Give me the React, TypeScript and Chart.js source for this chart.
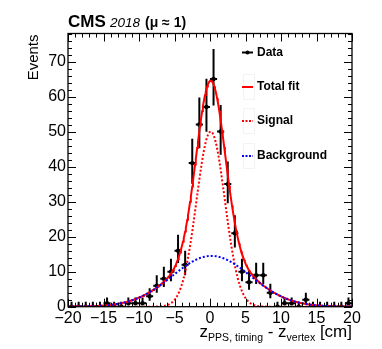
import React, { useEffect, useRef } from "react";
import { Chart, registerables } from "chart.js";
Chart.register(...registerables);

// ---- data ----
const binCenters = [
  -19.5, -18.5, -17.5, -16.5, -15.5, -14.5, -13.5, -12.5, -11.5, -10.5,
  -9.5, -8.5, -7.5, -6.5, -5.5, -4.5, -3.5, -2.5, -1.5, -0.5,
  0.5, 1.5, 2.5, 3.5, 4.5, 5.5, 6.5, 7.5, 8.5, 9.5,
  10.5, 11.5, 12.5, 13.5, 14.5, 15.5, 16.5, 17.5, 18.5, 19.5,
];
const counts = [
  0, 0, 0, 0, 0, 1, 0, 0, 1, 1,
  1, 3, 6, 8, 10, 16, 12, 41, 52, 57,
  65, 50, 35, 21, 10, 7, 9, 9, 4, 0,
  1, 1, 0, 2, 0, 0, 0, 0, 0, 1,
];
const binWidth = 1;

const xTickValues = [-20, -15, -10, -5, 0, 5, 10, 15, 20];
const xTickLabels = ["\u221220", "\u221215", "\u221210", "\u22125", "0", "5", "10", "15", "20"];
const yTickValues = [0, 10, 20, 30, 40, 50, 60, 70];
const yTickLabels = ["0", "10", "20", "30", "40", "50", "60", "70"];

// fit parameters (Gaussians)
const signalAmp = 50;
const signalMean = 0.1;
const signalSigma = 2.0;
const backgroundAmp = 14.5;
const backgroundMean = 0.2;
const backgroundSigma = 5.5;

const legendLabels = ["Data", "Total fit", "Signal", "Background"];

const X_MIN = -20;
const X_MAX = 20;
const Y_MIN = 0;
const Y_MAX = 78;

const FONT = "'Liberation Sans', Arial, Helvetica, sans-serif";

function gauss(x: number, a: number, m: number, s: number) {
  return a * Math.exp(-((x - m) * (x - m)) / (2 * s * s));
}

function buildCurves() {
  const sig: { x: number; y: number }[] = [];
  const bkg: { x: number; y: number }[] = [];
  const tot: { x: number; y: number }[] = [];
  for (let i = 0; i <= 400; i++) {
    const x = X_MIN + (i * (X_MAX - X_MIN)) / 400;
    const s = gauss(x, signalAmp, signalMean, signalSigma);
    const b = gauss(x, backgroundAmp, backgroundMean, backgroundSigma);
    sig.push({ x, y: s });
    bkg.push({ x, y: b });
    tot.push({ x, y: s + b });
  }
  return { sig, bkg, tot };
}

function errLow(n: number) {
  return n > 0 ? Math.sqrt(n + 0.25) - 0.5 : 0;
}
function errHigh(n: number) {
  return n > 0 ? Math.sqrt(n + 0.25) + 0.5 : 1.4;
}

const errorBarPlugin = {
  id: "errorBars",
  beforeDatasetsDraw(chart: any) {
    const { ctx, chartArea: a, scales } = chart;
    const xs = scales.x;
    const ys = scales.y;
    ctx.save();
    ctx.beginPath();
    ctx.rect(a.left, a.top, a.right - a.left, a.bottom - a.top);
    ctx.clip();
    ctx.strokeStyle = "#000";
    ctx.lineWidth = 2;
    binCenters.forEach((c, i) => {
      const n = counts[i];
      const px = xs.getPixelForValue(c);
      const py = ys.getPixelForValue(n);
      ctx.beginPath();
      ctx.moveTo(px, ys.getPixelForValue(n - errLow(n)));
      ctx.lineTo(px, ys.getPixelForValue(n + errHigh(n)));
      ctx.moveTo(xs.getPixelForValue(c - binWidth / 2), py);
      ctx.lineTo(xs.getPixelForValue(c + binWidth / 2), py);
      ctx.stroke();
    });
    ctx.restore();
  },
};

const framePlugin = {
  id: "frame",
  afterDraw(chart: any) {
    const { ctx, chartArea: a, scales } = chart;
    const xs = scales.x;
    const ys = scales.y;
    ctx.save();
    ctx.strokeStyle = "#000";
    ctx.lineWidth = 1;
    ctx.beginPath();
    for (let v = X_MIN; v <= X_MAX; v += 1) {
      const px = Math.round(xs.getPixelForValue(v)) + 0.5;
      const len = v % 5 === 0 ? 8 : 4;
      ctx.moveTo(px, a.bottom);
      ctx.lineTo(px, a.bottom - len);
      ctx.moveTo(px, a.top);
      ctx.lineTo(px, a.top + len);
    }
    for (let v = Y_MIN; v <= Y_MAX; v += 2) {
      const py = Math.round(ys.getPixelForValue(v)) + 0.5;
      const len = v % 10 === 0 ? 8 : 4;
      ctx.moveTo(a.left, py);
      ctx.lineTo(a.left + len, py);
      ctx.moveTo(a.right, py);
      ctx.lineTo(a.right - len, py);
    }
    ctx.stroke();
    ctx.lineWidth = 1.3;
    ctx.strokeRect(a.left, a.top, a.right - a.left, a.bottom - a.top);

    // ---- header ----
    ctx.fillStyle = "#000";
    ctx.textBaseline = "alphabetic";
    ctx.textAlign = "left";
    ctx.font = `bold 17px ${FONT}`;
    ctx.fillText("CMS", a.left, 27);
    ctx.font = `italic 13.5px ${FONT}`;
    ctx.fillText("2018", 110, 27);
    ctx.font = `bold 14px ${FONT}`;
    ctx.fillText("(\u03bc \u2248 1)", 145, 27);

    // ---- y title ----
    ctx.save();
    ctx.translate(38, a.top + 1);
    ctx.rotate(-Math.PI / 2);
    ctx.font = `15px ${FONT}`;
    ctx.textAlign = "right";
    ctx.fillText("Events", 0, 0);
    ctx.restore();

    // ---- x title ----
    const mainF = `17px ${FONT}`;
    const subF = `10.5px ${FONT}`;
    const parts: [string, string, number][] = [
      ["z", mainF, 0],
      ["PPS, timing", subF, 4.5],
      [" - ", mainF, 0],
      ["z", mainF, 0],
      ["vertex", subF, 4.5],
      [" [cm]", mainF, 0],
    ];
    let total = 0;
    parts.forEach(([t, f]) => {
      ctx.font = f;
      total += ctx.measureText(t).width;
    });
    let cx = a.right - total;
    const base = 336.5;
    parts.forEach(([t, f, dy]) => {
      ctx.font = f;
      ctx.fillText(t, cx, base + dy);
      cx += ctx.measureText(t).width;
    });

    // ---- legend ----
    const rowY = [52.5, 87, 121, 156];
    const symL = 242;
    const symR = 253;
    ctx.font = `bold 12px ${FONT}`;
    ctx.textBaseline = "middle";
    legendLabels.forEach((lab, i) => {
      const y = rowY[i];
      if (i > 0) {
        ctx.strokeStyle = "#f3f3f3";
        ctx.lineWidth = 1;
        ctx.setLineDash([]);
        ctx.strokeRect(243.5, y - 12.5, 11, 25);
      }
      ctx.lineWidth = 2;
      if (i === 0) {
        ctx.strokeStyle = "#000";
        ctx.setLineDash([]);
        ctx.beginPath();
        ctx.moveTo(symL, y);
        ctx.lineTo(symR, y);
        ctx.stroke();
        ctx.beginPath();
        ctx.arc((symL + symR) / 2, y, 2, 0, Math.PI * 2);
        ctx.fillStyle = "#000";
        ctx.fill();
      } else {
        ctx.strokeStyle = i === 3 ? "#0000ff" : "#ff0000";
        ctx.setLineDash(i === 1 ? [] : [2, 1.5]);
        ctx.beginPath();
        ctx.moveTo(symL, y);
        ctx.lineTo(symR, y);
        ctx.stroke();
      }
      ctx.setLineDash([]);
      ctx.fillStyle = "#000";
      ctx.fillText(lab, 257, y);
    });
    ctx.restore();
  },
};

export default function App() {
  const ref = useRef<HTMLCanvasElement | null>(null);
  useEffect(() => {
    document.body.style.margin = "0";
    const canvas = ref.current;
    if (!canvas) return;
    const { sig, bkg, tot } = buildCurves();
    const chart = new Chart(canvas, {
      type: "scatter",
      data: {
        datasets: [
          {
            label: "Data",
            data: binCenters.map((c, i) => ({ x: c, y: counts[i] })),
            showLine: false,
            pointRadius: 2.2,
            pointBackgroundColor: "#000",
            pointBorderColor: "#000",
            pointBorderWidth: 0,
            order: 4,
          },
          {
            label: "Total fit",
            data: tot,
            showLine: true,
            pointRadius: 0,
            borderColor: "#ff0000",
            borderWidth: 2,
            order: 3,
          },
          {
            label: "Signal",
            data: sig,
            showLine: true,
            pointRadius: 0,
            borderColor: "#ff0000",
            borderWidth: 2,
            borderDash: [2, 2],
            order: 2,
          },
          {
            label: "Background",
            data: bkg,
            showLine: true,
            pointRadius: 0,
            borderColor: "#0000ff",
            borderWidth: 2,
            borderDash: [2, 2],
            order: 1,
          },
        ],
      },
      options: {
        animation: false,
        responsive: false,
        devicePixelRatio: 1,
        layout: { padding: { left: 0, right: 30, top: 33.5, bottom: 0 } },
        plugins: {
          legend: { display: false },
          tooltip: { enabled: false },
          title: { display: false },
        },
        scales: {
          x: {
            type: "linear",
            min: X_MIN,
            max: X_MAX,
            grid: { display: false, drawTicks: false },
            border: { display: false },
            afterBuildTicks: (s: any) => {
              s.ticks = xTickValues.map((v) => ({ value: v }));
            },
            afterFit: (s: any) => {
              s.height = 42.3;
            },
            ticks: {
              autoSkip: false,
              maxRotation: 0,
              padding: 2,
              color: "#000",
              font: { family: FONT, size: 16 },
              callback: (v: any) => {
                const i = xTickValues.indexOf(Number(v));
                return i >= 0 ? xTickLabels[i] : "";
              },
            },
          },
          y: {
            type: "linear",
            min: Y_MIN,
            max: Y_MAX,
            grid: { display: false, drawTicks: false },
            border: { display: false },
            afterBuildTicks: (s: any) => {
              s.ticks = yTickValues.map((v) => ({ value: v }));
            },
            afterFit: (s: any) => {
              s.width = 68;
            },
            ticks: {
              autoSkip: false,
              padding: 2,
              color: "#000",
              font: { family: FONT, size: 16 },
              callback: (v: any) => {
                const i = yTickValues.indexOf(Number(v));
                return i >= 0 ? yTickLabels[i] : "";
              },
            },
          },
        },
      },
      plugins: [errorBarPlugin, framePlugin],
    } as any);
    return () => chart.destroy();
  }, []);
  return (
    <div style={{ position: "absolute", left: 0, top: 0, width: 382, height: 349 }}>
      <canvas ref={ref} width={382} height={349} style={{ width: 382, height: 349 }} />
    </div>
  );
}
